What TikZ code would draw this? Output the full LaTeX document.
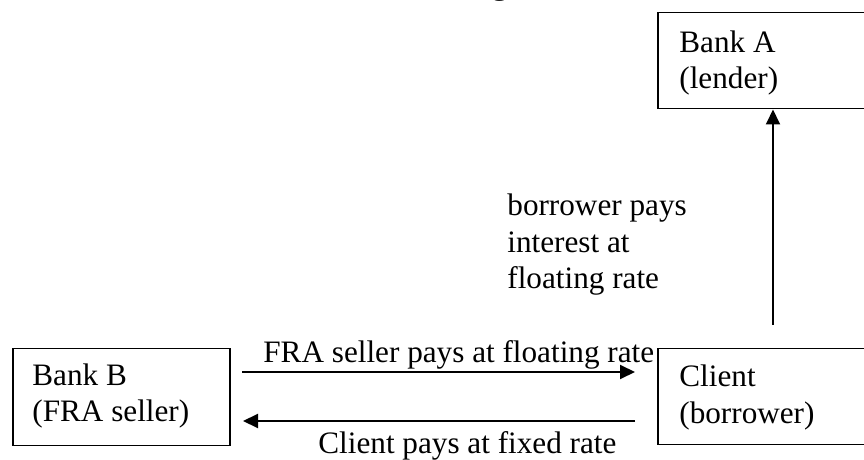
\documentclass[tikz,border=0pt]{standalone}
\usepackage{fontspec}
\setmainfont{Liberation Serif}
\usetikzlibrary{arrows.meta}
\begin{document}
\begin{tikzpicture}[x=0.5pt,y=-0.5pt,
  box/.style={draw=black,line width=0.75pt,rectangle,inner sep=0pt,anchor=north west},
  txt/.style={font=\fontsize{15.6pt}{18.25pt}\selectfont,align=left,anchor=base west,inner sep=0pt},
  arr/.style={line width=1pt,-{Triangle[length=7.5pt,width=7pt]}}]
\useasboundingbox (0,0) rectangle (864,460);
% partial title (cut off at the top)
\node[font=\fontsize{15.6pt}{18pt}\selectfont\bfseries,anchor=base,inner sep=0pt] (title) at (500,-5) {g};
% boxes
\node[box,minimum width=120pt,minimum height=48pt] (bankA) at (657,12) {};
\node[box,minimum width=108.5pt,minimum height=48.5pt] (bankB) at (12,348) {};
\node[box,minimum width=120pt,minimum height=48pt] (client) at (657,348) {};
% box texts (anchor = baseline of last line)
\node[txt] (bankAtext) at (679,89) {Bank A\\(lender)};
\node[txt] (bankBtext) at (32,422) {Bank B\\(FRA seller)};
\node[txt] (clienttext) at (679,423) {Client\\(borrower)};
% connector end points
\coordinate (vstart) at (773,325);
\coordinate (t1) at (242,372);
\coordinate (t2) at (635,372);
\coordinate (b1) at (635,421);
\coordinate (b2) at (243,421);
% arrows
\draw[arr] (vstart) -- (vstart |- bankA.south);
\draw[arr] (t1) -- (t2);
\draw[arr] (b1) -- (b2);
% labels
\node[txt] (lblfloat) at (263,363) {FRA seller pays at floating rate};
\node[txt] (lblfixed) at (318,454) {Client pays at fixed rate};
\node[txt] (lblinterest) at (507,289) {borrower pays\\interest at\\floating rate};
\end{tikzpicture}
\end{document}
